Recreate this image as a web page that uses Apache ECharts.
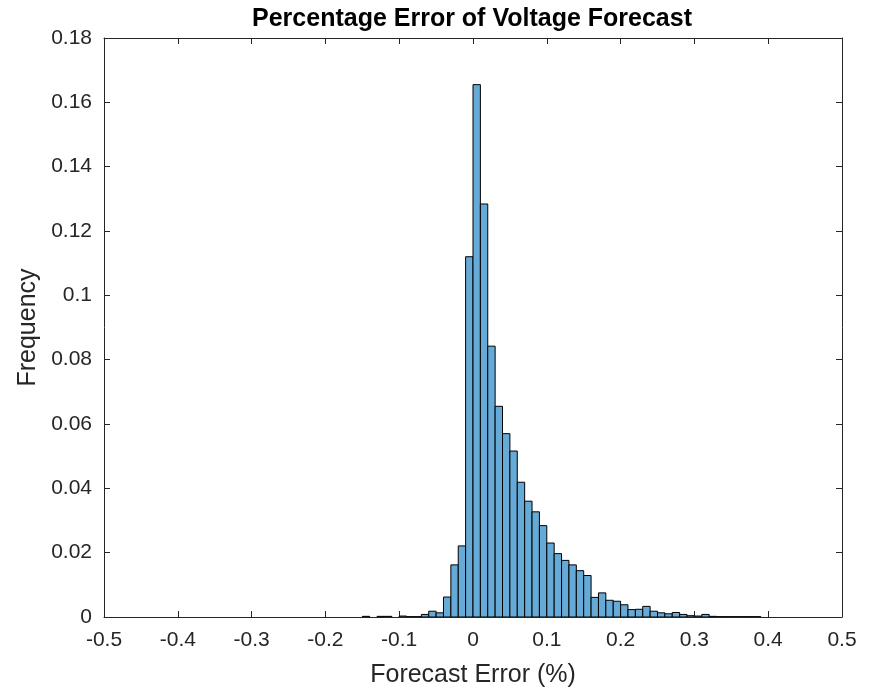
<!DOCTYPE html>
<html>
<head>
<meta charset="utf-8">
<script src="https://cdn.jsdelivr.net/npm/echarts@6/dist/echarts.min.js"></script>
<style>html,body{margin:0;padding:0;background:#fff;}#c{width:871px;height:693px;}</style>
</head>
<body>
<div id="c"></div>
<script>
// ---- data ----
const titleText = 'Percentage Error of Voltage Forecast';
const xLabel = 'Forecast Error (%)';
const yLabel = 'Frequency';
const binStart = -0.15;   // left edge of first bin
const binWidth = 0.01;
const freq = [
  0.0002, 0.0000, 0.0002, 0.0002, 0.0000, 0.0003, 0.0001, 0.0001, 0.0008, 0.0018,
  0.0013, 0.0062, 0.0162, 0.0221, 0.1120, 0.1655, 0.1284, 0.0842, 0.0655, 0.0570,
  0.0516, 0.0419, 0.0360, 0.0327, 0.0284, 0.0230, 0.0197, 0.0176, 0.0162, 0.0144,
  0.0129, 0.0061, 0.0075, 0.0052, 0.0049, 0.0038, 0.0023, 0.0024, 0.0033, 0.0018,
  0.0013, 0.0010, 0.0014, 0.0008, 0.0004, 0.0003, 0.0008, 0.0002, 0.0001, 0.0001,
  0.0001, 0.0001, 0.0001, 0.0001
];
const xTicks = ['-0.5','-0.4','-0.3','-0.2','-0.1','0','0.1','0.2','0.3','0.4','0.5'];
const yTicks = ['0','0.02','0.04','0.06','0.08','0.1','0.12','0.14','0.16','0.18'];

// ---- chart ----
const bins = freq.map((v, i) => [binStart + i * binWidth, binStart + (i + 1) * binWidth, v]).filter(d => d[2] > 0);
const axisColor = '#262626';
const font = 'Arial, "Liberation Sans", Helvetica, sans-serif';
const chart = echarts.init(document.getElementById('c'));
const xFmt = v => { const s = xTicks.find(t => Math.abs(parseFloat(t) - v) < 1e-9); return s !== undefined ? s : ''; };
const yFmt = v => { const s = yTicks.find(t => Math.abs(parseFloat(t) - v) < 1e-9); return s !== undefined ? s : ''; };
const baseX = {
  type: 'value', min: -0.5, max: 0.5, interval: 0.1,
  axisLine: { show: true, onZero: false, lineStyle: { color: axisColor, width: 1 } },
  axisTick: { show: true, inside: true, length: 6, lineStyle: { color: axisColor, width: 1 } },
  splitLine: { show: false }
};
const baseY = {
  type: 'value', min: 0, max: 0.18, interval: 0.02,
  axisLine: { show: true, onZero: false, lineStyle: { color: axisColor, width: 1 } },
  axisTick: { show: true, inside: true, length: 6, lineStyle: { color: axisColor, width: 1 } },
  splitLine: { show: false }
};
chart.setOption({
  animation: false,
  backgroundColor: '#ffffff',
  title: {
    text: titleText, left: 467, top: 2, textAlign: 'center',
    textStyle: { fontFamily: font, fontSize: 25, fontWeight: 'bold', color: '#000' }
  },
  grid: { left: 104, right: 29, top: 38, bottom: 73, containLabel: false },
  xAxis: [
    Object.assign({}, baseX, {
      position: 'bottom',
      name: xLabel, nameLocation: 'middle', nameGap: 46,
      nameTextStyle: { fontFamily: font, fontSize: 25, color: axisColor },
      axisLabel: { show: true, margin: 13, formatter: xFmt, fontFamily: font, fontSize: 21, color: axisColor, showMinLabel: true, showMaxLabel: true }
    }),
    Object.assign({}, baseX, { position: 'top', axisLabel: { show: false } })
  ],
  yAxis: [
    Object.assign({}, baseY, {
      position: 'left',
      name: yLabel, nameLocation: 'middle', nameGap: 61, nameRotate: 90,
      nameTextStyle: { fontFamily: font, fontSize: 25, color: axisColor },
      axisLabel: { show: true, margin: 12, formatter: yFmt, fontFamily: font, fontSize: 21, color: axisColor, showMinLabel: true, showMaxLabel: true }
    }),
    Object.assign({}, baseY, { position: 'right', axisLabel: { show: false } })
  ],
  series: [{
    type: 'custom',
    xAxisIndex: 0, yAxisIndex: 0,
    data: bins,
    encode: { x: [0, 1], y: 2 },
    clip: true,
    renderItem: function (params, api) {
      const p0 = api.coord([api.value(0), api.value(2)]);
      const p1 = api.coord([api.value(1), 0]);
      return {
        type: 'rect',
        shape: { x: p0[0], y: p0[1], width: p1[0] - p0[0], height: p1[1] - p0[1] },
        style: { fill: 'rgb(102,170,215)', stroke: '#000', lineWidth: 1 }
      };
    }
  }]
});
</script>
</body>
</html>
